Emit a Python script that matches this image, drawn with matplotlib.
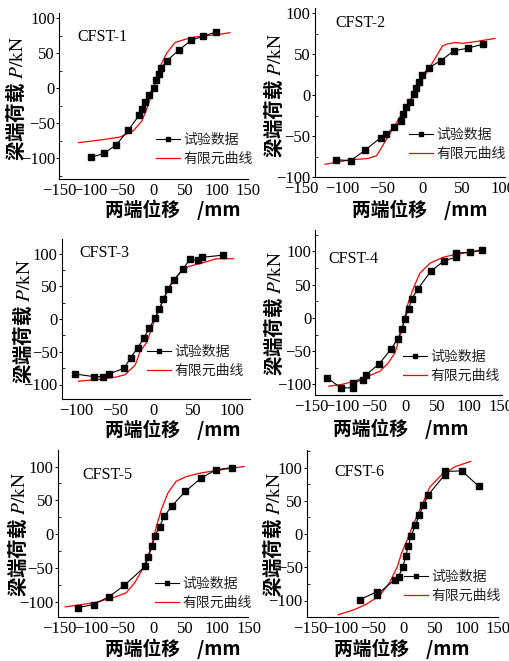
import matplotlib
matplotlib.use("Agg")
import matplotlib.pyplot as plt
from matplotlib.ticker import MultipleLocator

plt.rcParams['font.family'] = ['Noto Sans CJK SC', 'DejaVu Sans']
plt.rcParams['mathtext.fontset'] = 'stix'

W, H = 510, 661

# ---------------- data ----------------
names = ["CFST-1", "CFST-2", "CFST-3", "CFST-4", "CFST-5", "CFST-6"]

exp1_x = [-99, -79, -59, -40, -23, -18.5, -14, -8, 0, 4, 8, 12, 21, 40, 60, 79, 99]
exp1_y = [-99, -93.5, -81, -60, -39, -30, -20, -10, 0, 11, 20, 29, 39, 54, 68.5, 74, 80]
fe1_x = [-119, -82, -53, -32, -18.5, -10.6, -4, 0, 5, 12, 21, 34, 48, 66, 98, 121]
fe1_y = [-78, -74, -70, -61, -47, -29, -12.5, 0, 17.6, 34, 50, 65, 69, 73, 76, 79]

exp2_x = [-107, -89, -71, -52, -45, -35, -27, -24, -20, -15, -11, -8, -4, 0, 7.5, 23, 39, 56, 75]
exp2_y = [-79, -80, -67, -52, -48, -39, -32, -23, -15, -8, 1, 8, 16, 24.5, 33, 42, 54, 57, 62]
fe2_x = [-121, -90, -68, -57, 25, 30, 40, 50, 65, 90]
fe2_y = [-84.5, -79, -77.5, -74, 60, 62, 64, 63, 65, 69]

exp3_x = [-101, -77, -65, -58, -38, -30, -21, -13, -6, 1, 7, 12, 18, 26, 37, 46, 56, 61, 88]
exp3_y = [-84, -88, -88, -84, -75, -59, -44, -29, -14, 1, 16, 30, 46, 60, 76, 91, 90, 94, 97.5]
fe3_x = [-97, -69, -50, -37, -24, -18, -9, -3, 3.4, 12, 23, 33, 44, 63, 80, 102]
fe3_y = [-95, -92, -89, -85, -70, -50, -35, -14, 6, 29, 57, 70, 80, 86, 92, 92]

exp4_x = [-124.5, -103, -83, -83, -68, -62.5, -42, -23, -13, -6, -2, 4, 9, 18.5, 39, 60, 79.5, 79.5, 101, 120]
exp4_y = [-90, -105, -105, -97.5, -92.5, -85, -68.5, -46, -31, -16, -1, 13.5, 28.5, 43.5, 70, 86, 91.5, 97.5, 99, 102.5]
fe4_x = [-122, -102, -81, -60, -41, -28, -17.5, -11, -4, 2.6, 11.7, 22, 38, 59, 83, 120]
fe4_y = [-102.5, -100, -95, -87.5, -80, -67.5, -52.5, -32.5, -7.5, 20, 45, 67.5, 82.5, 91.5, 96.5, 101.5]

exp5_x = [-120, -96, -71.5, -47, -14, -9, -3, 1, 9, 16, 28, 49.5, 75, 98, 124]
exp5_y = [-109, -104.5, -93, -76, -48, -34, -18, -3.5, 11, 26, 41, 63, 83, 95, 98.5]
fe5_x = [-141, -96, -65, -44, -30.5, -20, -12, -4, 3.7, 11.6, 22, 35, 51, 72, 98, 143]
fe5_y = [-108, -102, -94.5, -87, -72, -55, -38, -18, 11, 36, 60.6, 78, 85, 90, 94, 100]

exp6_x = [-70, -43, -43, -15, -8.6, -1.6, 2.7, 7, 11, 18, 24, 31, 38, 65, 65, 92, 119]
exp6_y = [-98.5, -86.7, -91, -69, -64, -49, -33, -18, -3.6, 13, 28, 43.6, 58, 89, 94, 95, 72]
fe6_x = [-105, -80, -61, -39, -23, -11, -4, 4, 14.6, 28, 41.5, 60, 82, 106]
fe6_y = [-121.5, -114, -106, -93, -73, -50, -29, -11, 14, 42.5, 71, 89, 101.5, 109]

exp_x = [exp1_x, exp2_x, exp3_x, exp4_x, exp5_x, exp6_x]
exp_y = [exp1_y, exp2_y, exp3_y, exp4_y, exp5_y, exp6_y]
fe_x = [fe1_x, fe2_x, fe3_x, fe4_x, fe5_x, fe6_x]
fe_y = [fe1_y, fe2_y, fe3_y, fe4_y, fe5_y, fe6_y]

xticks_list = [
    [-150, -100, -50, 0, 50, 100, 150],
    [-150, -100, -50, 0, 50, 100],
    [-100, -50, 0, 50, 100],
    [-150, -100, -50, 0, 50, 100, 150],
    [-150, -100, -50, 0, 50, 100, 150],
    [-150, -100, -50, 0, 50, 100, 150],
]
yticks = [-100, -50, 0, 50, 100]
leg_labels = ["试验数据", "有限元曲线"]

# -------------- layout (pixels) --------------
# x0, kx, y0, ky, xlim, ylim, spine_x
layout = [
    (153.6, 0.63, 88, 0.70, (-150, 150), (-130, 107), None),
    (422.5, 0.805, 95, 0.82, (-150, 102), (-100, 106), -134),
    (154, 0.78, 319, 0.655, (-118, 123), (-122, 122), None),
    (406, 0.633, 318, 0.665, (-150, 152), (-116, 132), -143),
    (154, 0.63, 534, 0.675, (-153, 150), (-123, 124), None),
    (404, 0.627, 534, 0.665, (-155, 150), (-125, 126), None),
]
ylabel_pos = [(15, 98), (273, 95), (22, 321), (273, 313), (17, 534), (272, 534)]
xlabel_pos = [(173, 210), (420, 210), (173, 430), (401, 429), (173, 649), (402, 649)]
legend_pos = [(156, 149), (409, 144), (147, 361), (403, 366), (155, 593), (404, 586)]
name_pos = [(77, 37), (335, 23), (79, 253), (328, 259), (82, 475), (334, 472)]

fig = plt.figure(figsize=(W / 100, H / 100), dpi=100)

serif = 'Liberation Serif'

for i in range(6):
    x0, kx, y0, ky, xl, yl, spx = layout[i]
    left = x0 + kx * xl[0]
    right = x0 + kx * xl[1]
    top = y0 - ky * yl[1]
    bottom = y0 - ky * yl[0]
    ax = fig.add_axes([left / W, 1 - bottom / H, (right - left) / W, (bottom - top) / H])
    ax.set_xlim(*xl)
    ax.set_ylim(*yl)
    ax.spines['top'].set_visible(False)
    ax.spines['right'].set_visible(False)
    for s in ('left', 'bottom'):
        ax.spines[s].set_linewidth(0.8)
    if spx is not None:
        ax.spines['left'].set_position(('data', spx))
        ax.spines['bottom'].set_bounds(spx, xl[1])
    ax.set_xticks(xticks_list[i])
    ax.set_yticks(yticks)
    ax.yaxis.set_minor_locator(MultipleLocator(25))
    ax.tick_params(axis='x', length=0, pad=3, labelsize=12)
    ax.tick_params(axis='y', which='major', direction='out', length=2.5, width=0.7, pad=0.5, labelsize=12)
    ax.tick_params(axis='y', which='minor', direction='in', length=2, width=0.6)
    for lab in ax.get_xticklabels() + ax.get_yticklabels():
        lab.set_fontfamily(serif)

    ax.plot(exp_x[i], exp_y[i], color='black', lw=0.8, marker='s', ms=3.8,
            label=leg_labels[0], zorder=3)
    ax.plot(fe_x[i], fe_y[i], color='#ff0000', lw=0.9, label=leg_labels[1], zorder=2)

    lx, ly = legend_pos[i]
    leg = ax.legend(loc='center left', bbox_to_anchor=(lx / W, 1 - ly / H),
                    bbox_transform=fig.transFigure, frameon=False, fontsize=10,
                    borderpad=0, borderaxespad=0, handlelength=1.7, handletextpad=0.3,
                    labelspacing=0.35, markerscale=0.8)
    for t in leg.get_texts():
        t.set_color('#222222')

    nx, ny = name_pos[i]
    fig.text(nx / W, 1 - ny / H, names[i], fontsize=11.5, family=serif,
             ha='left', va='center')

    ax.set_ylabel("梁端荷载 $P\\mathrm{/kN}$", fontsize=14, fontweight='bold')
    yx, yy = ylabel_pos[i]
    ax.yaxis.set_label_coords(yx / W, 1 - yy / H, transform=fig.transFigure)
    ax.yaxis.label.set_va('center')
    ax.set_xlabel("两端位移    /mm", fontsize=13.5, fontweight='bold')
    xx, xy = xlabel_pos[i]
    ax.xaxis.set_label_coords(xx / W, 1 - xy / H, transform=fig.transFigure)
    ax.xaxis.label.set_va('center')

fig.savefig("out.png", dpi=100)
